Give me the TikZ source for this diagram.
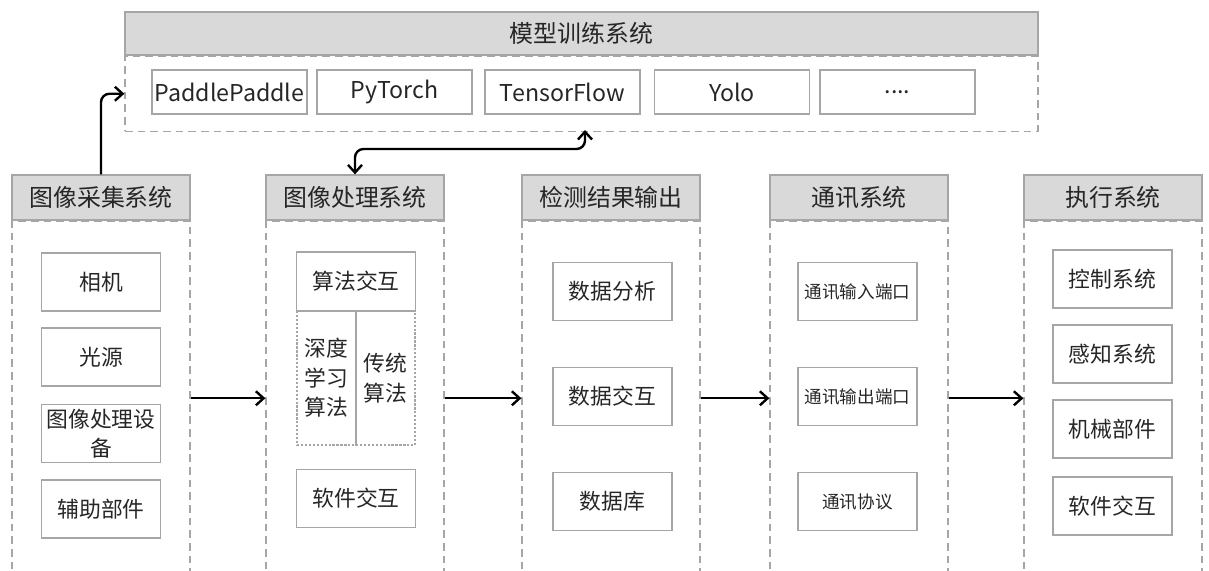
\documentclass[tikz,border=0pt]{standalone}
\usepackage{fontspec}
\setmainfont{Noto Sans CJK SC}
\usepackage{xcolor}
\definecolor{boxline}{HTML}{A6A6A6}
\definecolor{headfill}{HTML}{D9D9D9}
\definecolor{txt}{HTML}{262626}
\usetikzlibrary{arrows.meta, positioning}

% one unit of the grid below
\newcommand{\pxu}{0.025cm}

\tikzset{
  headbox/.style={draw=boxline, fill=headfill, line width=0.9pt, inner sep=0pt,
    minimum width=178*\pxu, minimum height=45*\pxu,
    font=\fontsize{17}{20}\selectfont, text=txt},
  bodybox/.style={draw=boxline, line width=0.9pt, dash pattern=on 5.5pt off 3.5pt,
    minimum width=178*\pxu, minimum height=354*\pxu, inner sep=0pt},
  itembox/.style={draw=boxline, line width=1pt, inner sep=0pt, align=center,
    minimum width=119*\pxu, minimum height=58*\pxu,
    font=\fontsize{15.5}{21}\selectfont, text=txt},
  smallitem/.style={itembox, font=\fontsize{12.5}{16}\selectfont},
  subbox/.style={draw=boxline, line width=0.8pt, dash pattern=on 1.6pt off 1.2pt,
    inner sep=0pt, align=center, minimum width=59*\pxu, minimum height=134*\pxu,
    font=\fontsize{15.5}{21}\selectfont, text=txt},
  libbox/.style={itembox, minimum width=155*\pxu, minimum height=44*\pxu,
    font=\fontsize{16.5}{20}\selectfont},
  barb/.tip={Straight Barb[length=5.5pt, width=10pt, line width=1.7pt]},
  flow/.style={line width=1.7pt, -barb},
  flowboth/.style={line width=1.7pt, barb-barb},
}

\begin{document}
\begin{tikzpicture}[x=\pxu, y=-\pxu]
  \useasboundingbox (0,0) rectangle (1209,571);

  % training system on top
  \node[headbox, minimum width=913*\pxu, minimum height=43*\pxu] (train) at (581.5,33.5) {模型训练系统};
  \node[bodybox, minimum width=913*\pxu, minimum height=75*\pxu, below=0pt of train] (trainbody) {};
  \node[libbox] (paddle) at (229.5,92) {PaddlePaddle};
  \node[libbox] (torch)  at (394.5,92) {PyTorch};
  \node[libbox] (tf)     at (562.5,92) {TensorFlow};
  \node[libbox] (yolo)   at (732,92)   {Yolo};
  \node[libbox] (more)   at (897.5,92) {....};

  % the five columns
  \foreach \name/\cx/\title in {acq/101/图像采集系统, proc/355/图像处理系统,
      out/611/检测结果输出, comm/859/通讯系统, exec/1113/执行系统} {
    \node[headbox] (\name head) at (\cx,197.5) {\title};
    \node[bodybox, below=0pt of \name head] (\name body) {};
  }

  % image acquisition
  \node[itembox] (cam)    at (101,282)   {相机};
  \node[itembox] (light)  at (101,357)   {光源};
  \node[itembox] (device) at (101,433.5) {图像处理设\\备};
  \node[itembox] (aux)    at (101,509)   {辅助部件};

  % image processing
  \node[itembox, minimum height=59*\pxu] (algo) at (356,281.5) {算法交互};
  \node[subbox] (deep) at (326.5,378) {深度\\学习\\算法};
  \node[subbox] (trad) at (385.5,378) {传统\\算法};
  \node[itembox] (soft) at (356,498.5) {软件交互};

  % detection output
  \node[itembox] (anal) at (612.5,291.5) {数据分析};
  \node[itembox] (xchg) at (612.5,396.5) {数据交互};
  \node[itembox] (db)   at (612.5,501.5) {数据库};

  % communication
  \node[smallitem] (portin)  at (857.5,291.5) {通讯输入端口};
  \node[smallitem] (portout) at (857.5,396.5) {通讯输出端口};
  \node[smallitem] (proto)   at (857.5,501.5) {通讯协议};

  % execution
  \node[itembox] (ctrl)  at (1112.5,279) {控制系统};
  \node[itembox] (sense) at (1112.5,354) {感知系统};
  \node[itembox] (mech)  at (1112.5,429) {机械部件};
  \node[itembox] (esoft) at (1112.5,506) {软件交互};

  % arrows between the columns
  \draw[flow] (acqbody)  -- (procbody);
  \draw[flow] (procbody) -- (outbody);
  \draw[flow] (outbody)  -- (commbody);
  \draw[flow] (commbody) -- (execbody);

  % links to the training system
  \coordinate (tbin) at (585,130);
  \draw[flow, rounded corners=6pt] (acqhead.north) |- (trainbody.west);
  \draw[flowboth, rounded corners=6pt]
    (prochead.north) -- (prochead.north |- 0,149) -| (tbin);
\end{tikzpicture}
\end{document}
